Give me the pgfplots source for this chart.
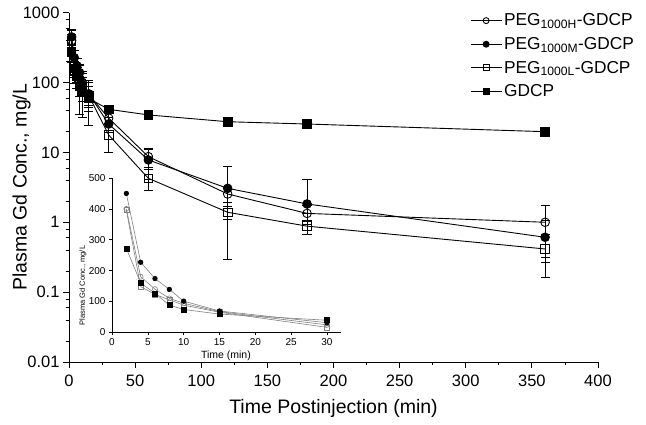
\documentclass[border=0pt]{standalone}
\usepackage{pgfplots}
\pgfplotsset{compat=1.18}
\usepackage{fontspec}
\setmainfont{Liberation Sans}
\begin{document}
\begin{tikzpicture}[x=1pt,y=1pt]
\useasboundingbox (0,0) rectangle (646,425);
\begin{axis}[
  at={(69pt,63pt)}, anchor=south west,
  scale only axis, width=529pt, height=349.3pt,
  ymode=log, xmin=0, xmax=400, ymin=0.01, ymax=1000,
  axis x line*=bottom, axis y line*=left,
  axis line style={line width=0.8pt},
  every tick/.style={line width=0.8pt, black},
  tick align=outside, major tick length=6pt, minor tick length=3pt,
  xtick={0,50,...,400}, xticklabels={0,50,100,150,200,250,300,350,400},
  minor xtick={25,75,...,375},
  ytick={0.01,0.1,1,10,100,1000}, yticklabels={0.01,0.1,1,10,100,1000},
  minor ytick={0.02,0.04,0.06,0.08,0.2,0.4,0.6,0.8,2,4,6,8,20,40,60,80,200,400,600,800},
  tick label style={font=\fontsize{16.5}{19}\selectfont},
  xticklabel style={yshift=-3pt},
  xlabel={Time Postinjection (min)}, ylabel={Plasma Gd Conc., mg/L},
  label style={font=\fontsize{19.5}{22}\selectfont},
  xlabel style={at={(axis description cs:0.5,-0.1317)}, anchor=center},
  ylabel style={at={(axis description cs:-0.0895,0.5)}, anchor=center},
  clip=false,
  legend style={draw=none, fill=none, at={(axis description cs:0.758,1.003)}, anchor=north west,
    font=\fontsize{17.3}{20}\selectfont, row sep=6pt, inner sep=0pt},
  legend cell align=left,
  legend image code/.code={\draw[mark repeat=2,mark phase=2, mark size=3pt] plot coordinates {(0pt,0pt) (15.5pt,0pt) (31pt,0pt)};},
]
% PEG1000H - open circle
\addplot[black, line width=0.9pt, mark=o, mark size=4.3pt, mark options={solid},
  error bars/.cd, y dir=both, y explicit, error bar style={line width=0.8pt},
  error mark options={rotate=90, mark size=4.6pt, line width=0.8pt}]
coordinates {
(2,400) +- (0,150)
(4,180) +- (0,50)
(6,140) +- (0,40)
(8,110) +- (0,30)
(10,94) +- (0,25)
(15,67) +- (0,20)
(30,31) +- (0,5)
(60,8.7) +- (0,2.5)
(120,2.54) +- (0,0.64)
(180,1.34) +- (0,0.4)
(360,1.0) +- (0,0.73)
};
\addlegendentry{PEG\textsubscript{1000H}-GDCP}
% PEG1000M - filled circle
\addplot[black, line width=0.9pt, mark=*, mark size=4.3pt, mark options={solid},
  error bars/.cd, y dir=both, y explicit, error bar style={line width=0.8pt},
  error mark options={rotate=90, mark size=4.6pt, line width=0.8pt}]
coordinates {
(2,450) += (0,130) -= (0,130)
(4,227) += (0,60) -= (0,60)
(6,174) += (0,50) -= (0,50)
(8,139) += (0,40) -= (0,40)
(10,101) += (0,35) -= (0,35)
(15,69) += (0,30) -= (0,30)
(30,25.5) += (0,6) -= (0,6)
(60,7.8) += (0,3.7) -= (0,3.7)
(120,3.06) += (0,3.3) -= (0,2.77)
(180,1.83) += (0,2.3) -= (0,0.5)
(360,0.61) += (0,0.45) -= (0,0.3)
};
\addlegendentry{PEG\textsubscript{1000M}-GDCP}
% PEG1000L - open square
\addplot[black, line width=0.9pt, mark=square, mark size=4.3pt, mark options={solid},
  error bars/.cd, y dir=both, y explicit, error bar style={line width=0.8pt},
  error mark options={rotate=90, mark size=4.6pt, line width=0.8pt}]
coordinates {
(2,396) +- (0,100)
(4,148) +- (0,50)
(6,123) +- (0,40)
(8,105) +- (0,70)
(10,88) +- (0,56)
(15,65) +- (0,41)
(30,17.8) +- (0,7.8)
(60,4.26) +- (0,1.36)
(120,1.39) +- (0,0.3)
(180,0.88) +- (0,0.2)
(360,0.415) +- (0,0.25)
};
\addlegendentry{PEG\textsubscript{1000L}-GDCP}
% GDCP - filled square
\addplot[black, line width=0.9pt, mark=square*, mark size=4.3pt, mark options={solid},
  error bars/.cd, y dir=both, y explicit, error bar style={line width=0.8pt},
  error mark options={rotate=90, mark size=4.6pt, line width=0.8pt}]
coordinates {
(2,272) +- (0,80)
(4,160) +- (0,40)
(6,126) +- (0,30)
(8,88) +- (0,25)
(10,74) +- (0,20)
(15,59) +- (0,15)
(30,41.4) +- (0,3)
(60,34.4) +- (0,2)
(120,27.5) +- (0,4)
(180,25.5) +- (0,3)
(360,19.8) +- (0,0.5)
};
\addlegendentry{GDCP}
\end{axis}

\begin{axis}[
  at={(112pt,92.7pt)}, anchor=south west,
  scale only axis, width=229.3pt, height=154.3pt,
  xmin=0, xmax=32, ymin=0, ymax=500,
  axis x line*=bottom, axis y line*=left,
  axis line style={line width=0.6pt},
  every tick/.style={line width=0.6pt, black},
  tick align=outside, major tick length=3pt,
  xtick={0,5,...,30}, xticklabels={0,5,10,15,20,25,30},
  ytick={0,100,...,500}, yticklabels={0,100,200,300,400,500},
  tick label style={font=\fontsize{10}{12}\selectfont},
  xlabel={Time (min)}, ylabel={Plasma Gd Conc., mg/L},
  xlabel style={font=\fontsize{10.5}{12}\selectfont, at={(axis description cs:0.497,-0.1536)}, anchor=center},
  ylabel style={font=\fontsize{7.5}{9}\selectfont, at={(axis description cs:-0.1265,0.303)}, anchor=center},
  clip=false,
]
\addplot[gray, line width=0.6pt, mark=o, mark size=2.5pt, mark options={solid, gray}]
coordinates {(2,400) (4,180) (6,140) (8,110) (10,94) (15,67) (30,24)};
\addplot[gray, line width=0.6pt, mark=square, mark size=2.5pt, mark options={solid, gray}]
coordinates {(2,396) (4,148) (6,123) (8,105) (10,88) (15,65) (30,16)};
\addplot[gray, line width=0.6pt, mark=*, mark size=2.3pt, mark options={solid, black}]
coordinates {(2,450) (4,227) (6,174) (8,139) (10,101) (15,69) (30,31)};
\addplot[gray, line width=0.6pt, mark=square*, mark size=2.5pt, mark options={solid, black}]
coordinates {(2,272) (4,160) (6,126) (8,88) (10,74) (15,59) (30,39)};
\end{axis}
\end{tikzpicture}
\end{document}
